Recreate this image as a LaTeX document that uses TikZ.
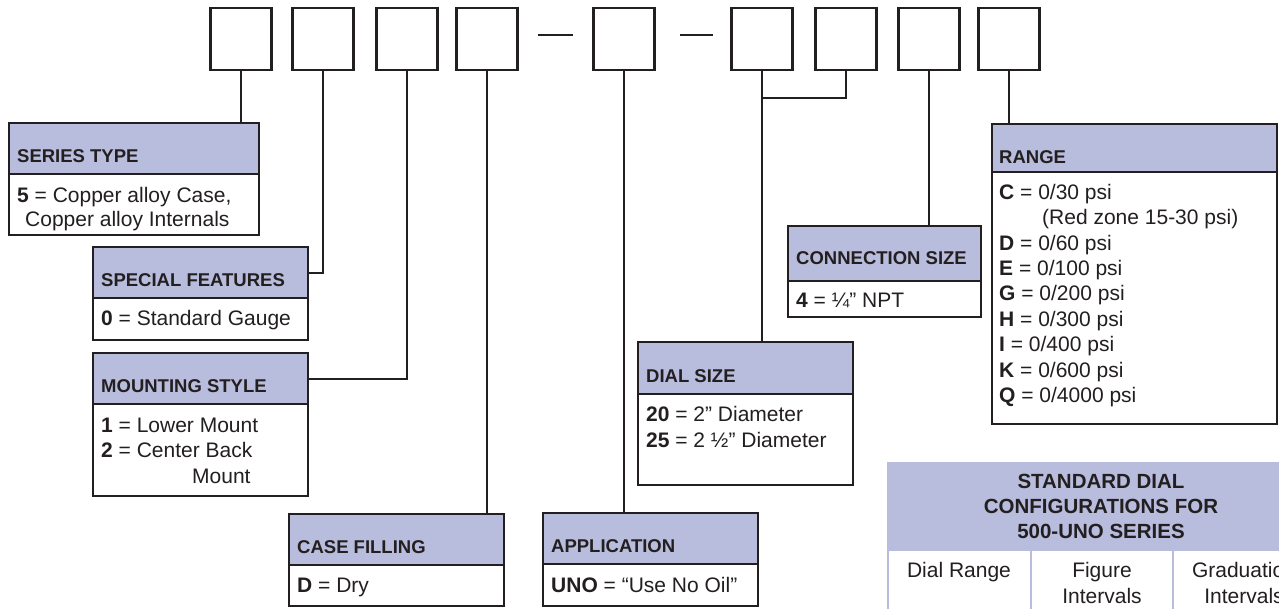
\documentclass[tikz,border=0pt]{standalone}
\usepackage{fontspec}
\setmainfont{Liberation Sans}
\definecolor{hdrfill}{HTML}{B8BCDD}
\definecolor{ink}{HTML}{231F20}
\tikzset{
  digit/.style={draw=ink, line width=2.2pt, minimum width=61pt, minimum height=62pt, inner sep=0pt, outer sep=0pt, anchor=north},
  hdr/.style={draw=ink, fill=hdrfill, line width=2.2pt, inner sep=0pt, outer sep=0pt, anchor=north west},
  bod/.style={draw=ink, line width=2.2pt, inner sep=0pt, outer sep=0pt, anchor=north west},
  htxt/.style={anchor=base west, inner sep=0pt, text=ink, font=\fontsize{18.5}{22}\selectfont\bfseries},
  btxt/.style={anchor=base west, inner sep=0pt, text=ink, font=\fontsize{21}{25}\selectfont},
  ttxt/.style={anchor=base, inner sep=0pt, text=ink, font=\fontsize{20.5}{24}\selectfont\bfseries},
  ctxt/.style={anchor=base, inner sep=0pt, text=ink, font=\fontsize{21}{25}\selectfont},
  link/.style={draw=ink, line width=2pt},
  dashline/.style={draw=ink, line width=2pt},
  cellline/.style={draw=hdrfill, line width=2.5pt},
}
\begin{document}
\begin{tikzpicture}[x=1pt, y=-1pt]
\useasboundingbox (0,0) rectangle (1279,608);
\clip (0,0) rectangle (1279,608);
\fill[white] (0,0) rectangle (1279,608);

% code digit boxes
\node[digit] (b1) at (241,8) {};
\node[digit] (b2) at (323,8) {};
\node[digit] (b3) at (407,8) {};
\node[digit] (b4) at (487,8) {};
\node[digit] (b5) at (624,8) {};
\node[digit] (b6) at (762,8) {};
\node[digit] (b7) at (846,8) {};
\node[digit] (b8) at (929,8) {};
\node[digit] (b9) at (1009,8) {};
\coordinate (d1a) at (538,35); \coordinate (d1b) at (573,35);
\coordinate (d2a) at (680,35); \coordinate (d2b) at (713,35);
\draw[dashline] (d1a) -- (d1b);
\draw[dashline] (d2a) -- (d2b);

% SERIES TYPE
\node[bod, minimum width=250pt, minimum height=61pt] (stb) at (9,174) {};
\node[hdr, minimum width=250pt, minimum height=51pt] (sth) at (9,123) {};
\node[htxt] (stt) at (17,162) {SERIES TYPE};
\node[btxt] (st1) at (17,202) {\textbf{5} = Copper alloy Case,};
\node[btxt] (st2) at (25,226) {Copper alloy Internals};

% SPECIAL FEATURES
\node[bod, minimum width=215pt, minimum height=42pt] (sfb) at (93,298) {};
\node[hdr, minimum width=215pt, minimum height=51pt] (sfh) at (93,247) {};
\node[htxt] (sft) at (101,286) {SPECIAL FEATURES};
\node[btxt] (sf1) at (101,325) {\textbf{0} = Standard Gauge};

% MOUNTING STYLE
\node[bod, minimum width=215pt, minimum height=92pt] (msb) at (93,404) {};
\node[hdr, minimum width=215pt, minimum height=51pt] (msh) at (93,353) {};
\node[htxt] (mst) at (101,392) {MOUNTING STYLE};
\node[btxt] (ms1) at (101,432) {\textbf{1} = Lower Mount};
\node[btxt] (ms2) at (101,457) {\textbf{2} = Center Back};
\node[btxt] (ms3) at (192,483) {Mount};

% CASE FILLING
\node[bod, minimum width=215pt, minimum height=41pt] (cfb) at (289,565) {};
\node[hdr, minimum width=215pt, minimum height=51pt] (cfh) at (289,514) {};
\node[htxt] (cft) at (297,553) {CASE FILLING};
\node[btxt] (cf1) at (297,592) {\textbf{D} = Dry};

% APPLICATION
\node[bod, minimum width=215pt, minimum height=42pt] (apb) at (543,564) {};
\node[hdr, minimum width=215pt, minimum height=51pt] (aph) at (543,513) {};
\node[htxt] (apt) at (551,552) {APPLICATION};
\node[btxt] (ap1) at (551,592) {\textbf{UNO} = “Use No Oil”};

% DIAL SIZE
\node[bod, minimum width=215pt, minimum height=91pt] (dsb) at (638,394) {};
\node[hdr, minimum width=215pt, minimum height=52pt] (dsh) at (638,342) {};
\node[htxt] (dst) at (646,382) {DIAL SIZE};
\node[btxt] (ds1) at (646,421) {\textbf{20} = 2” Diameter};
\node[btxt] (ds2) at (646,447) {\textbf{25} = 2 ½” Diameter};

% CONNECTION SIZE
\node[bod, minimum width=193pt, minimum height=36pt] (csb) at (788,281) {};
\node[hdr, minimum width=193pt, minimum height=55pt] (csh) at (788,226) {};
\node[htxt] (cst) at (796,264) {CONNECTION SIZE};
\node[btxt] (cs1) at (796,307) {\textbf{4} = ¼” NPT};

% RANGE
\node[bod, minimum width=285pt, minimum height=252pt] (rgb) at (992,172) {};
\node[hdr, minimum width=285pt, minimum height=48pt] (rgh) at (992,124) {};
\node[htxt] (rgt) at (999,163) {RANGE};
\node[btxt] (rg1) at (999,199.3) {\textbf{C} = 0/30 psi};
\node[btxt] (rg2) at (1042,224.7) {(Red zone 15-30 psi)};
\node[btxt] (rg3) at (999,250.1) {\textbf{D} = 0/60 psi};
\node[btxt] (rg4) at (999,275.5) {\textbf{E} = 0/100 psi};
\node[btxt] (rg5) at (999,300.9) {\textbf{G} = 0/200 psi};
\node[btxt] (rg6) at (999,326.3) {\textbf{H} = 0/300 psi};
\node[btxt] (rg7) at (999,351.7) {\textbf{I} = 0/400 psi};
\node[btxt] (rg8) at (999,377.1) {\textbf{K} = 0/600 psi};
\node[btxt] (rg9) at (999,402.5) {\textbf{Q} = 0/4000 psi};

% connectors
\coordinate (join) at (762,98);
\draw[link] (b1.south) -- (b1.south |- sth.north);
\draw[link] (b2.south) |- (sfh.east);
\draw[link] (b3.south) |- (msh.east);
\draw[link] (b4.south) -- (b4.south |- cfh.north);
\draw[link] (b5.south) -- (b5.south |- aph.north);
\draw[link] (b6.south) -- (b6.south |- dsh.north);
\draw[link] (b7.south) |- (join);
\draw[link] (b8.south) -- (b8.south |- csh.north);
\draw[link] (b9.south) -- (b9.south |- rgh.north);

% STANDARD DIAL CONFIGURATIONS table
\node[fill=hdrfill, inner sep=0pt, outer sep=0pt, minimum width=433pt, minimum height=89pt, anchor=north west] (tbl) at (887,462) {};
\coordinate (c0) at (888,551); \coordinate (c0e) at (888,612);
\coordinate (c1) at (1031,551); \coordinate (c1e) at (1031,612);
\coordinate (c2) at (1173,551); \coordinate (c2e) at (1173,612);
\draw[cellline] (c0) -- (c0e);
\draw[cellline] (c1) -- (c1e);
\draw[cellline] (c2) -- (c2e);
\node[ttxt] (tt1) at (1101,488) {STANDARD DIAL};
\node[ttxt] (tt2) at (1101,513) {CONFIGURATIONS FOR};
\node[ttxt] (tt3) at (1101,538) {500-UNO SERIES};
\node[ctxt] (tc1) at (959,577) {Dial Range};
\node[ctxt] (tc2) at (1102,577) {Figure};
\node[ctxt] (tc3) at (1102,603) {Intervals};
\node[ctxt] (tc4) at (1244,577) {Graduation};
\node[ctxt] (tc5) at (1244,603) {Intervals};
\end{tikzpicture}
\end{document}
